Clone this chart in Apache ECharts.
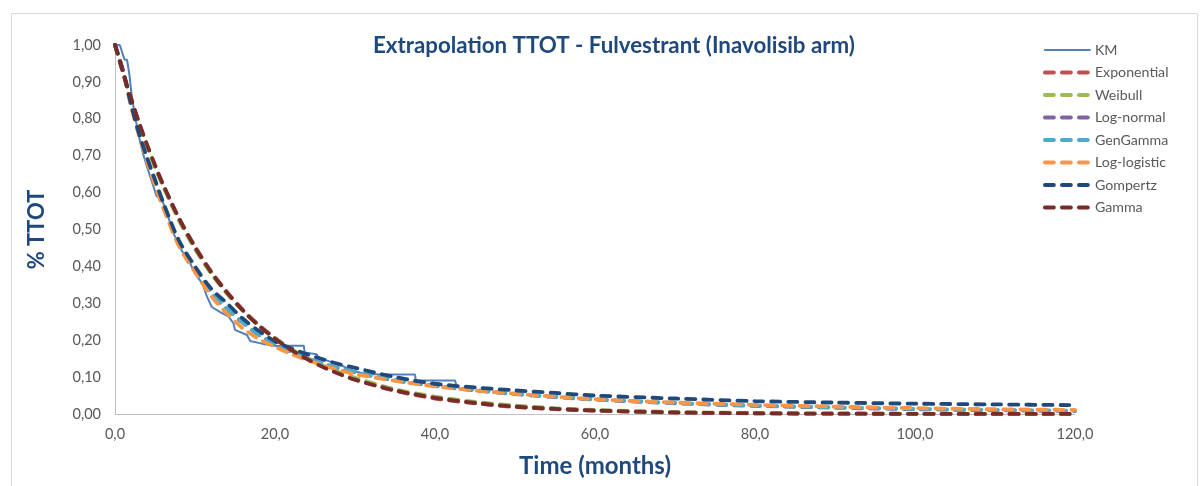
<!DOCTYPE html>
<html>
<head>
<meta charset="utf-8">
<script src="https://cdn.jsdelivr.net/npm/echarts@6/dist/echarts.min.js"></script>
<style>
html,body{margin:0;padding:0;background:#fff;}
#chart{width:1201px;height:486px;}
</style>
</head>
<body>
<div id="chart"></div>
<script>
const chartTitle = "Extrapolation TTOT - Fulvestrant (Inavolisib arm)";
const xAxisTitle = "Time (months)";
const yAxisTitle = "% TTOT";

const kmTimes = [0,0.6,1.2,1.5,1.8,2.1,2.9,3.5,4.0,5.2,5.8,6.5,7.3,8.3,9.4,10.0,10.6,11.0,11.3,11.5,12.1,13.1,14.2,14.8,15.0,16.5,16.9,18.5,20.2,21.0,23.6,23.7,25.2,25.5,26.9,27.7,28.5,29.4,31.0,33.0,37.5,37.6,42.5,42.7];
const kmValues = [1.0,1.0,0.96,0.96,0.92,0.86,0.76,0.706,0.67,0.59,0.585,0.544,0.49,0.444,0.408,0.381,0.363,0.35,0.33,0.318,0.29,0.277,0.264,0.246,0.228,0.214,0.198,0.19,0.184,0.185,0.185,0.167,0.162,0.152,0.142,0.137,0.13,0.119,0.11,0.107,0.107,0.091,0.091,0.075];

const fitTimes = [0,1,2,3,4,5,6,8,10,12,14,16,18,20,22,24,26,28,30,35,40,45,50,55,60,70,80,90,100,110,120];

const exponential = [1,0.924,0.854,0.789,0.729,0.674,0.623,0.531,0.454,0.387,0.331,0.282,0.241,0.206,0.176,0.150,0.128,0.109,0.093,0.063,0.042,0.029,0.019,0.013,0.0087,0.004,0.0018,0.0008,0.0004,0.0002,0.0001];
const weibull = [1,0.925,0.852,0.786,0.725,0.668,0.617,0.524,0.447,0.381,0.326,0.279,0.239,0.205,0.176,0.152,0.131,0.113,0.098,0.067,0.047,0.033,0.023,0.016,0.011,0.0055,0.0027,0.0013,0.0007,0.0003,0.0002];
const logNormal = [1,0.93,0.84,0.76,0.69,0.627,0.567,0.464,0.391,0.329,0.284,0.247,0.214,0.189,0.169,0.151,0.136,0.123,0.112,0.091,0.076,0.064,0.054,0.046,0.039,0.029,0.022,0.017,0.013,0.010,0.008];
const genGamma = [1,0.93,0.84,0.76,0.69,0.628,0.568,0.465,0.392,0.33,0.285,0.248,0.215,0.19,0.17,0.152,0.137,0.124,0.113,0.092,0.077,0.065,0.055,0.047,0.040,0.030,0.023,0.018,0.014,0.011,0.009];
const logLogistic = [1,0.93,0.835,0.755,0.685,0.62,0.56,0.455,0.385,0.32,0.272,0.232,0.203,0.182,0.163,0.146,0.132,0.119,0.108,0.09,0.075,0.064,0.055,0.047,0.040,0.031,0.025,0.020,0.016,0.013,0.011];
const gompertz = [1,0.93,0.84,0.76,0.695,0.635,0.575,0.47,0.40,0.34,0.30,0.258,0.225,0.197,0.178,0.162,0.148,0.135,0.125,0.100,0.082,0.072,0.064,0.057,0.050,0.042,0.035,0.031,0.028,0.026,0.024];
const gamma = [1,0.926,0.856,0.79,0.73,0.674,0.622,0.53,0.452,0.385,0.329,0.28,0.239,0.204,0.174,0.149,0.127,0.109,0.093,0.064,0.044,0.030,0.020,0.014,0.0095,0.0044,0.002,0.001,0.0005,0.0002,0.0001];

const seriesNames = ["KM","Exponential","Weibull","Log-normal","GenGamma","Log-logistic","Gompertz","Gamma"];
const seriesColors = ["#4F81BD","#C0504D","#9BBB59","#8064A2","#4BACC6","#F79646","#1F497D","#772C2A"];
const fitData = [exponential, weibull, logNormal, genGamma, logLogistic, gompertz, gamma];

function pairs(xs, ys){ return xs.map((x,i)=>[x, ys[i]]); }

const chart = echarts.init(document.getElementById('chart'), null, {renderer:'canvas'});
const font = "Lato, 'Open Sans', 'Noto Sans', sans-serif";

const series = [{
  name: seriesNames[0],
  type: 'line',
  data: pairs(kmTimes, kmValues),
  symbol: 'none',
  lineStyle: {color: seriesColors[0], width: 2},
  itemStyle: {color: seriesColors[0]},
  animation: false
}];
fitData.forEach((arr, i) => {
  series.push({
    name: seriesNames[i+1],
    type: 'line',
    data: pairs(fitTimes, arr),
    symbol: 'none',
    smooth: 0.3,
    lineStyle: {color: seriesColors[i+1], width: 3.8, type: [9, 8], cap: 'round'},
    itemStyle: {color: seriesColors[i+1]},
    animation: false
  });
});

const legendData = seriesNames.map((n, i) => i === 0
  ? {name: n, lineStyle: {width: 2, type: 'solid'}}
  : {name: n});

chart.setOption({
  animation: false,
  backgroundColor: '#fff',
  textStyle: {fontFamily: font},
  title: {
    text: chartTitle,
    left: 609, top: 30, textAlign: 'center',
    textStyle: {fontFamily: font, fontSize: 22.3, fontWeight: 'bold', color: '#1F497D'}
  },
  graphic: [{
    type: 'rect', silent: true, z: -1,
    shape: {x: 11.5, y: 13.5, width: 1186, height: 490},
    style: {fill: 'none', stroke: '#D9D9D9', lineWidth: 1}
  }],
  legend: {
    orient: 'vertical',
    left: 1038, top: 38,
    itemWidth: 45, itemHeight: 14, itemGap: 8.5,
    data: legendData,
    itemStyle: {opacity: 0},
    lineStyle: {width: 3.8, cap: 'round'},
    textStyle: {fontFamily: font, fontSize: 14.2, lineHeight: 14, color: '#595959'}
  },
  grid: {left: 115, right: 126, top: 45, bottom: 72, containLabel: false},
  xAxis: {
    type: 'value', min: 0, max: 120, interval: 20,
    name: xAxisTitle, nameLocation: 'middle', nameGap: 40,
    nameTextStyle: {fontFamily: font, fontSize: 24, fontWeight: 'bold', color: '#1F497D'},
    axisLine: {show: true, lineStyle: {color: '#BFBFBF', width: 1}},
    axisTick: {show: false},
    splitLine: {show: false},
    axisLabel: {color: '#595959', fontSize: 14.5, margin: 13, fontFamily: font,
      formatter: v => v.toFixed(1).replace('.', ',')}
  },
  yAxis: {
    type: 'value', min: 0, max: 1, interval: 0.1,
    name: yAxisTitle, nameLocation: 'middle', nameGap: 67, nameRotate: 90,
    nameTextStyle: {fontFamily: font, fontSize: 22, fontWeight: 'bold', color: '#1F497D'},
    axisLine: {show: true, lineStyle: {color: '#BFBFBF', width: 1}},
    axisTick: {show: false},
    splitLine: {show: false},
    axisLabel: {color: '#595959', fontSize: 14.5, margin: 14, fontFamily: font,
      formatter: v => v.toFixed(2).replace('.', ',')}
  },
  series: series
});
</script>
</body>
</html>
